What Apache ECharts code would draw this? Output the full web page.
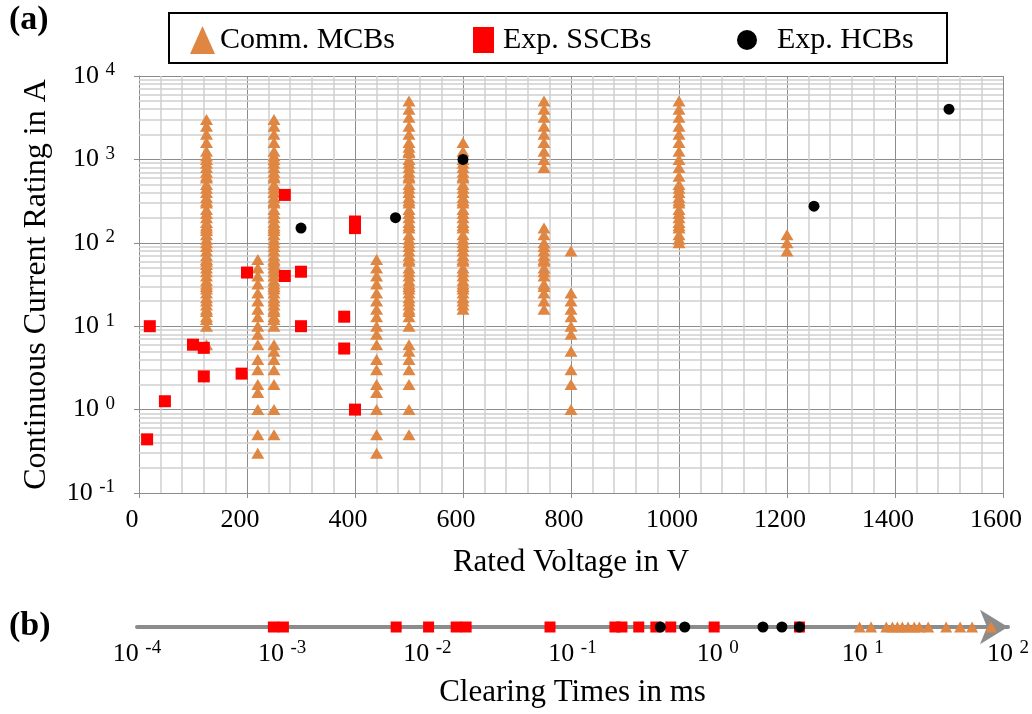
<!DOCTYPE html>
<html>
<head>
<meta charset="utf-8">
<script src="https://cdn.jsdelivr.net/npm/echarts@6/dist/echarts.min.js"></script>
<style>
html,body{margin:0;padding:0;background:#fff;}
#chart{width:1032px;height:714px;}
</style>
</head>
<body>
<div id="chart"></div>
<script>
// ---------- DATA ----------
// (a) Commercial MCBs: rated voltage columns and the current ratings stacked at each
const mcbVolts = [125, 220, 250, 440, 500, 600, 750, 800, 1000, 1200];
const mcbCurrents = [
  [6, 10, 12, 13, 15, 16, 18, 20, 22, 25, 28, 30, 32, 35, 40, 45, 50, 55, 60, 63, 70, 80, 90, 100, 110, 125, 140, 150, 160, 175, 200, 225, 250, 300, 315, 350, 400, 450, 500, 600, 630, 700, 800, 900, 1000, 1100, 1250, 1600, 2000, 2500, 3000],
  [0.3, 0.5, 1, 1.6, 2, 3, 4, 6, 8, 10, 13, 16, 20, 25, 32, 40, 50, 63],
  [0.5, 1, 2, 3, 4, 5, 6, 10, 12, 13, 15, 16, 18, 20, 22, 25, 28, 30, 32, 35, 40, 45, 50, 55, 60, 63, 70, 80, 90, 100, 110, 125, 140, 150, 160, 175, 200, 225, 250, 300, 315, 350, 400, 450, 500, 600, 630, 700, 800, 900, 1000, 1100, 1250, 1600, 2000, 2500, 3000],
  [0.3, 0.5, 1, 1.6, 2, 3, 4, 6, 8, 10, 13, 16, 20, 25, 32, 40, 50, 63],
  [0.5, 1, 2, 3, 4, 5, 6, 10, 13, 15, 16, 18, 20, 22, 25, 28, 30, 32, 35, 40, 45, 50, 60, 63, 70, 80, 90, 100, 110, 125, 150, 160, 175, 200, 225, 250, 300, 320, 350, 400, 450, 500, 600, 630, 700, 800, 900, 1000, 1200, 1250, 1400, 1600, 2000, 2500, 3200, 4000, 5000],
  [16, 18, 20, 22, 25, 28, 30, 32, 35, 40, 45, 50, 60, 63, 70, 80, 90, 100, 110, 125, 150, 160, 175, 200, 225, 250, 300, 320, 350, 400, 450, 500, 600, 630, 700, 800, 900, 1000, 1250, 1600],
  [16, 20, 25, 30, 32, 40, 45, 50, 60, 63, 70, 80, 90, 100, 125, 150, 800, 1000, 1250, 1600, 2000, 2500, 3200, 4000, 5000],
  [1, 2, 3, 5, 8, 10, 13, 16, 20, 25, 80],
  [100, 110, 125, 150, 160, 175, 200, 225, 250, 300, 320, 350, 400, 450, 500, 630, 800, 1000, 1250, 1600, 2000, 2500, 3200, 4000, 5000],
  [80, 100, 125]
];
// (a) Experimental SSCBs
const sscbVolts    = [15, 20, 48, 100, 120, 120, 190, 200, 270, 270, 300, 300, 380, 380, 400, 400, 400];
const sscbCurrents = [0.44, 10, 1.26, 6, 5.5, 2.5, 2.7, 44, 40, 375, 45, 10, 13, 5.4, 1, 150, 180];
// (a) Experimental HCBs
const hcbVolts    = [300, 475, 600, 1250, 1500];
const hcbCurrents = [150, 200, 1000, 275, 4000];
// (b) Clearing times in ms
const mcbTimes  = [9.5, 11.4, 14.5, 16, 17.3, 18.7, 20.5, 22.6, 24.5, 28.2, 37.5, 46.8, 56.6, 76.4];
const sscbTimes = [0.00087, 0.00102, 0.0061, 0.0102, 0.0158, 0.0185, 0.070, 0.196, 0.219, 0.286, 0.375, 0.475, 0.946, 3.66];
const hcbTimes  = [0.403, 0.593, 2.05, 2.77, 3.66];
// labels
const seriesNames = ['Comm. MCBs', 'Exp. SSCBs', 'Exp. HCBs'];
const xNameA = 'Rated Voltage in V';
const yNameA = 'Continuous Current Rating in A';
const xNameB = 'Clearing Times in ms';
const yMinorFactors = [2, 3, 4, 5, 6, 7, 8, 9];
const yDecades = [-1, 0, 1, 2, 3];

// ---------- BUILD ----------
const FONT = 'Liberation Serif, Times New Roman, serif';
const ORANGE = '#DF8642', RED = '#FF0000', BLACK = '#000000';
const MAJOR = '#8c8c8c', MINOR = '#cfcfcf';

const mcbData = [];
mcbVolts.forEach((v, i) => mcbCurrents[i].forEach(c => mcbData.push([v, c])));
const sscbData = sscbVolts.map((v, i) => [v, sscbCurrents[i]]);
const hcbData = hcbVolts.map((v, i) => [v, hcbCurrents[i]]);
const minorLines = [];
yDecades.forEach(e => yMinorFactors.forEach(f => minorLines.push({ yAxis: f * Math.pow(10, e) })));

function powLabel(v) {
  const e = Math.round(Math.log10(v));
  return '{b|10} {s|' + e + '}';
}
const richLab = {
  b: { fontSize: 26, fontFamily: FONT, color: '#000', lineHeight: 30 },
  s: { fontSize: 19, fontFamily: FONT, color: '#000', verticalAlign: 'top', lineHeight: 30, padding: [0, 0, 12, 0] }
};

const chart = echarts.init(document.getElementById('chart'), null, { renderer: 'canvas' });
const option = {
  animation: false,
  backgroundColor: '#fff',
  textStyle: { fontFamily: FONT },
  graphic: [
    { type: 'rect', left: 168, top: 12, shape: { width: 778, height: 50 }, style: { fill: '#fff', stroke: '#000', lineWidth: 2 }, z: -1 },
    { type: 'text', left: 9, top: 3, style: { text: '(a)', font: 'bold 34px ' + FONT, fill: '#000' } },
    { type: 'text', left: 9, top: 609, style: { text: '(b)', font: 'bold 34px ' + FONT, fill: '#000' } }
  ],
  legend: [
    { data: [{ name: seriesNames[0], icon: 'triangle' }], left: 185, top: 20, itemWidth: 25, itemHeight: 28,
      textStyle: { fontSize: 30, fontFamily: FONT, color: '#000', padding: [0, 0, 0, 0] } },
    { data: [{ name: seriesNames[1], icon: 'rect' }], left: 468, top: 20, itemWidth: 21, itemHeight: 26,
      textStyle: { fontSize: 30, fontFamily: FONT, color: '#000', padding: [0, 0, 0, 4] } },
    { data: [{ name: seriesNames[2], icon: 'circle' }], left: 732, top: 20, itemWidth: 50, itemHeight: 20,
      textStyle: { fontSize: 30, fontFamily: FONT, color: '#000' } }
  ],
  grid: [
    { left: 139, right: 29, top: 76, height: 417 },
    { left: 137, right: 22, top: 607, height: 20 }
  ],
  xAxis: [
    {
      gridIndex: 0, type: 'value', min: 0, max: 1600, interval: 200,
      name: xNameA, nameLocation: 'middle', nameGap: 54,
      nameTextStyle: { fontSize: 31, fontFamily: FONT, color: '#000' },
      axisLine: { show: true, lineStyle: { color: MAJOR, width: 1 } },
      axisTick: { show: true, length: 5, lineStyle: { color: MAJOR } },
      axisLabel: { fontSize: 26, fontFamily: FONT, color: '#000', margin: 14, padding: [0, 14, 0, 0], formatter: v => String(v) },
      splitLine: { show: true, lineStyle: { color: MAJOR, width: 1 } },
      minorTick: { show: true, splitNumber: 5, length: 0 },
      minorSplitLine: { show: true, lineStyle: { color: MINOR, width: 1.5 } }
    },
    {
      gridIndex: 1, type: 'log', logBase: 10, min: 1e-4, max: 1e2, splitNumber: 6,
      name: xNameB, nameLocation: 'middle', nameGap: 50,
      nameTextStyle: { fontSize: 31, fontFamily: FONT, color: '#000' },
      axisLine: { show: true, symbol: ['none', 'arrow'], symbolSize: [26, 28], lineStyle: { color: MAJOR, width: 4 } },
      axisTick: { show: false },
      axisLabel: { formatter: powLabel, rich: richLab, fontSize: 26, fontFamily: FONT, margin: 12 },
      splitLine: { show: false }
    }
  ],
  yAxis: [
    {
      gridIndex: 0, type: 'log', logBase: 10, min: 0.1, max: 10000, splitNumber: 5,
      name: yNameA, nameLocation: 'middle', nameGap: 86,
      nameTextStyle: { fontSize: 32, fontFamily: FONT, color: '#000' },
      axisLine: { show: true, lineStyle: { color: MAJOR, width: 1 } },
      axisTick: { show: true, length: 5, lineStyle: { color: MAJOR } },
      axisLabel: { formatter: powLabel, rich: richLab, fontSize: 26, fontFamily: FONT, margin: 24 },
      splitLine: { show: true, lineStyle: { color: MAJOR, width: 1 } }
    },
    { gridIndex: 1, type: 'value', min: 0, max: 1, show: false }
  ],
  series: [
    {
      name: 'minorGrid', type: 'scatter', xAxisIndex: 0, yAxisIndex: 0, data: [], z: 1, silent: true,
      markLine: { silent: true, z: 1, symbol: 'none', label: { show: false }, animation: false,
        lineStyle: { color: MINOR, width: 1.5, type: 'solid' }, data: minorLines }
    },
    { name: seriesNames[0], type: 'scatter', xAxisIndex: 0, yAxisIndex: 0, data: mcbData, symbol: 'triangle',
      symbolSize: [13, 11], itemStyle: { color: ORANGE, opacity: 1 }, z: 3 },
    { name: seriesNames[1], type: 'scatter', xAxisIndex: 0, yAxisIndex: 0, data: sscbData, symbol: 'rect',
      symbolSize: 12, itemStyle: { color: RED, opacity: 1 }, z: 4 },
    { name: seriesNames[2], type: 'scatter', xAxisIndex: 0, yAxisIndex: 0, data: hcbData, symbol: 'circle',
      symbolSize: 11, itemStyle: { color: BLACK, opacity: 1 }, z: 5 },
    { name: seriesNames[0], type: 'scatter', xAxisIndex: 1, yAxisIndex: 1, clip: false,
      data: mcbTimes.map(t => [t, 0]), symbol: 'triangle', symbolSize: [12, 11], itemStyle: { color: ORANGE, opacity: 1 }, z: 6 },
    { name: seriesNames[1], type: 'scatter', xAxisIndex: 1, yAxisIndex: 1, clip: false,
      data: sscbTimes.map(t => [t, 0]), symbol: 'rect', symbolSize: 11, itemStyle: { color: RED, opacity: 1 }, z: 4 },
    { name: seriesNames[2], type: 'scatter', xAxisIndex: 1, yAxisIndex: 1, clip: false,
      data: hcbTimes.map(t => [t, 0]), symbol: 'circle', symbolSize: 11, itemStyle: { color: BLACK, opacity: 1 }, z: 5 }
  ]
};
chart.setOption(option);
</script>
</body>
</html>
